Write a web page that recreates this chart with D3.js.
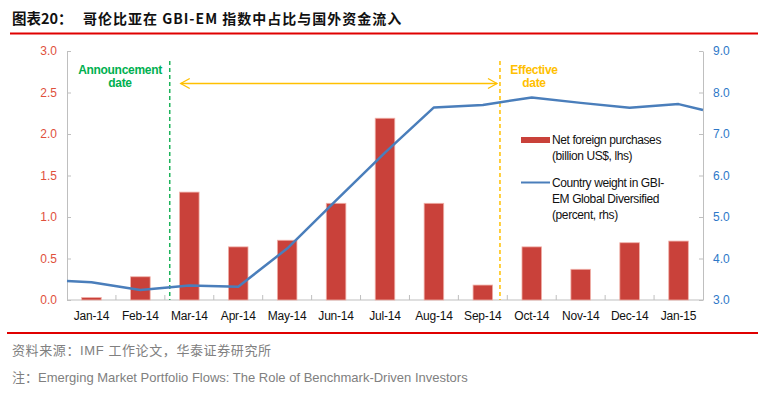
<!DOCTYPE html>
<html>
<head>
<meta charset="utf-8">
<script src="https://cdn.jsdelivr.net/npm/d3@7"></script>
<style>
  body { margin: 0; background: #fff; }
  text { font-family: "Liberation Sans", Arial, sans-serif; }
</style>
</head>
<body>
<svg id="chart"></svg>
<script>
const months = ['Jan-14', 'Feb-14', 'Mar-14', 'Apr-14', 'May-14', 'Jun-14', 'Jul-14',
  'Aug-14', 'Sep-14', 'Oct-14', 'Nov-14', 'Dec-14', 'Jan-15']
// billion US$, left axis
const netPurchases = [0.03, 0.28, 1.30, 0.64, 0.72, 1.165, 2.19, 1.165, 0.18, 0.64, 0.37, 0.69, 0.71]
// country weight (percent, right axis); position in month index
const weightPos = [-0.5, 0, 1, 2, 3, 4, 5, 6, 7, 8, 9, 10, 11, 12, 12.5]
const weight = [3.46, 3.43, 3.24, 3.35, 3.32, 4.24, 5.4, 6.55, 7.64, 7.70, 7.88, 7.75, 7.63, 7.72, 7.58]
const leftTicks = [0, 0.5, 1.0, 1.5, 2.0, 2.5, 3.0]
const rightTicks = [3, 4, 5, 6, 7, 8, 9]
// event markers (month index)
const announcePos = 1.6
const effectivePos = 8.35

const w = 758, h = 393
const red = '#c9413a'
const blue = '#4a7ebb'
const green = '#1db35a'
const orange = '#ffc000'

const svg = d3.select('#chart').attr('width', w).attr('height', h)

const plotL = 67, plotR = 703, plotT = 51, plotB = 300

const x = d3.scaleBand().domain(months).range([plotL, plotR]).paddingInner(0.6).paddingOuter(0.3)
const xPos = d3.scaleLinear().domain([-0.5, 12.5]).range([plotL, plotR])
const yL = d3.scaleLinear().domain([0, 3]).range([plotB, plotT])
const yR = d3.scaleLinear().domain([3, 9]).range([plotB, plotT])

// title
svg.append('text')
  .attr('x', 12).attr('y', 24)
  .style('font-family', '"Noto Sans CJK SC", sans-serif')
  .style('font-weight', 'bold')
  .style('font-size', '14.5px')
  .attr('fill', '#111')
  .text('图表20：')
svg.append('text')
  .attr('x', 83).attr('y', 24)
  .style('font-family', '"Noto Sans CJK SC", sans-serif')
  .style('font-weight', 'bold')
  .style('font-size', '14px')
  .style('letter-spacing', '1px')
  .attr('fill', '#111')
  .text('哥伦比亚在 GBI-EM 指数中占比与国外资金流入')
svg.append('line')
  .attr('x1', 10).attr('x2', w).attr('y1', 33.5).attr('y2', 33.5)
  .attr('stroke', '#e00000').attr('stroke-width', 2)
svg.append('line')
  .attr('x1', 7).attr('x2', w).attr('y1', 333).attr('y2', 333)
  .attr('stroke', '#e00000').attr('stroke-width', 2)

// axes
const axL = svg.append('g').attr('transform', `translate(${plotL},0)`)
  .call(d3.axisLeft(yL).tickValues(leftTicks).tickFormat(d3.format('.1f')).tickSizeInner(-4).tickSizeOuter(0).tickPadding(10))
axL.select('.domain').attr('stroke', '#bfbfbf')
axL.selectAll('line').attr('stroke', '#bfbfbf')
axL.selectAll('text').attr('fill', '#e0503c').style('font-size', '12px')

const axR = svg.append('g').attr('transform', `translate(${plotR},0)`)
  .call(d3.axisRight(yR).tickValues(rightTicks).tickFormat(d3.format('.1f')).tickSizeInner(-4).tickSizeOuter(0).tickPadding(10))
axR.select('.domain').attr('stroke', '#bfbfbf')
axR.selectAll('line').attr('stroke', '#bfbfbf')
axR.selectAll('text').attr('fill', '#2e78c8').style('font-size', '12px')

const axB = svg.append('g').attr('transform', `translate(0,${plotB})`)
  .call(d3.axisBottom(x).tickSize(0).tickPadding(11))
axB.select('.domain').attr('stroke', '#bfbfbf').attr('d', `M${plotL},0H${plotR}`)
axB.selectAll('text').attr('fill', '#111').style('font-size', '12px').style('letter-spacing', '-0.2px')

// category boundary ticks
svg.append('g').selectAll('line')
  .data(d3.range(1, months.length))
  .join('line')
  .attr('x1', d => xPos(d - 0.5)).attr('x2', d => xPos(d - 0.5))
  .attr('y1', plotB).attr('y2', plotB - 5)
  .attr('stroke', '#bfbfbf')

// bars
svg.append('g').selectAll('rect')
  .data(netPurchases)
  .join('rect')
  .attr('x', (d, i) => x(months[i]))
  .attr('width', x.bandwidth())
  .attr('y', d => yL(d))
  .attr('height', d => plotB - yL(d))
  .attr('fill', red)
  .attr('stroke', '#f0b0a8').attr('stroke-width', 0.8)

// event lines
svg.append('line')
  .attr('x1', xPos(announcePos)).attr('x2', xPos(announcePos))
  .attr('y1', 61).attr('y2', plotB)
  .attr('stroke', green).attr('stroke-width', 1.5).attr('stroke-dasharray', '4,3')
svg.append('line')
  .attr('x1', xPos(effectivePos)).attr('x2', xPos(effectivePos))
  .attr('y1', 61).attr('y2', plotB)
  .attr('stroke', orange).attr('stroke-width', 1.5).attr('stroke-dasharray', '4,3')

// double arrow
const ax1 = xPos(announcePos) + 11, ax2 = xPos(effectivePos) - 3, ay = 83.5
svg.append('line').attr('x1', ax1).attr('x2', ax2).attr('y1', ay).attr('y2', ay)
  .attr('stroke', orange).attr('stroke-width', 1.3)
svg.append('path').attr('d', `M${ax1 + 9},${ay - 5}L${ax1},${ay}L${ax1 + 9},${ay + 5}`)
  .attr('fill', 'none').attr('stroke', orange).attr('stroke-width', 1.3)
svg.append('path').attr('d', `M${ax2 - 9},${ay - 5}L${ax2},${ay}L${ax2 - 9},${ay + 5}`)
  .attr('fill', 'none').attr('stroke', orange).attr('stroke-width', 1.3)

// annotation labels
const ann = [
  { lines: ['Announcement', 'date'], x: 120, color: '#00b050' },
  { lines: ['Effective', 'date'], x: 534, color: orange }
]
ann.forEach(a => {
  a.lines.forEach((t, i) => {
    svg.append('text')
      .attr('x', a.x).attr('y', 74 + i * 13)
      .attr('text-anchor', 'middle')
      .style('font-size', '12px').style('font-weight', 'bold')
      .style('letter-spacing', '-0.3px')
      .attr('fill', a.color)
      .text(t)
  })
})

// weight line
const line = d3.line()
  .x((d, i) => xPos(weightPos[i]))
  .y(d => yR(d))
svg.append('path')
  .datum(weight)
  .attr('d', line)
  .attr('fill', 'none')
  .attr('stroke', blue)
  .attr('stroke-width', 2.5)
  .attr('stroke-linejoin', 'round')

// legend
const lg = svg.append('g').attr('transform', 'translate(521,0)')
lg.append('rect').attr('x', 0).attr('y', 137).attr('width', 29).attr('height', 6).attr('fill', red)
lg.append('line').attr('x1', 0).attr('x2', 29).attr('y1', 182.5).attr('y2', 182.5)
  .attr('stroke', blue).attr('stroke-width', 2)
const legendText = [
  ['Net foreign purchases', 144],
  ['(billion US$, lhs)', 160],
  ['Country weight in GBI-', 187],
  ['EM Global Diversified', 203],
  ['(percent, rhs)', 219]
]
lg.selectAll('text.lg')
  .data(legendText)
  .join('text')
  .attr('class', 'lg')
  .attr('x', 31).attr('y', d => d[1])
  .style('font-size', '12px').style('letter-spacing', '-0.4px')
  .attr('fill', '#111')
  .text(d => d[0])

// footer
svg.append('text')
  .attr('x', 12).attr('y', 355)
  .style('font-family', '"Liberation Sans", "Noto Sans CJK SC", sans-serif')
  .style('font-size', '13px')
  .style('letter-spacing', '0.6px')
  .attr('fill', '#808080')
  .text('资料来源：IMF 工作论文，华泰证券研究所')
svg.append('text')
  .attr('x', 12).attr('y', 382)
  .style('font-family', '"Liberation Sans", "Noto Sans CJK SC", sans-serif')
  .style('font-size', '13px')
  .attr('fill', '#808080')
  .text('注：Emerging Market Portfolio Flows: The Role of Benchmark-Driven Investors')
</script>
</body>
</html>
